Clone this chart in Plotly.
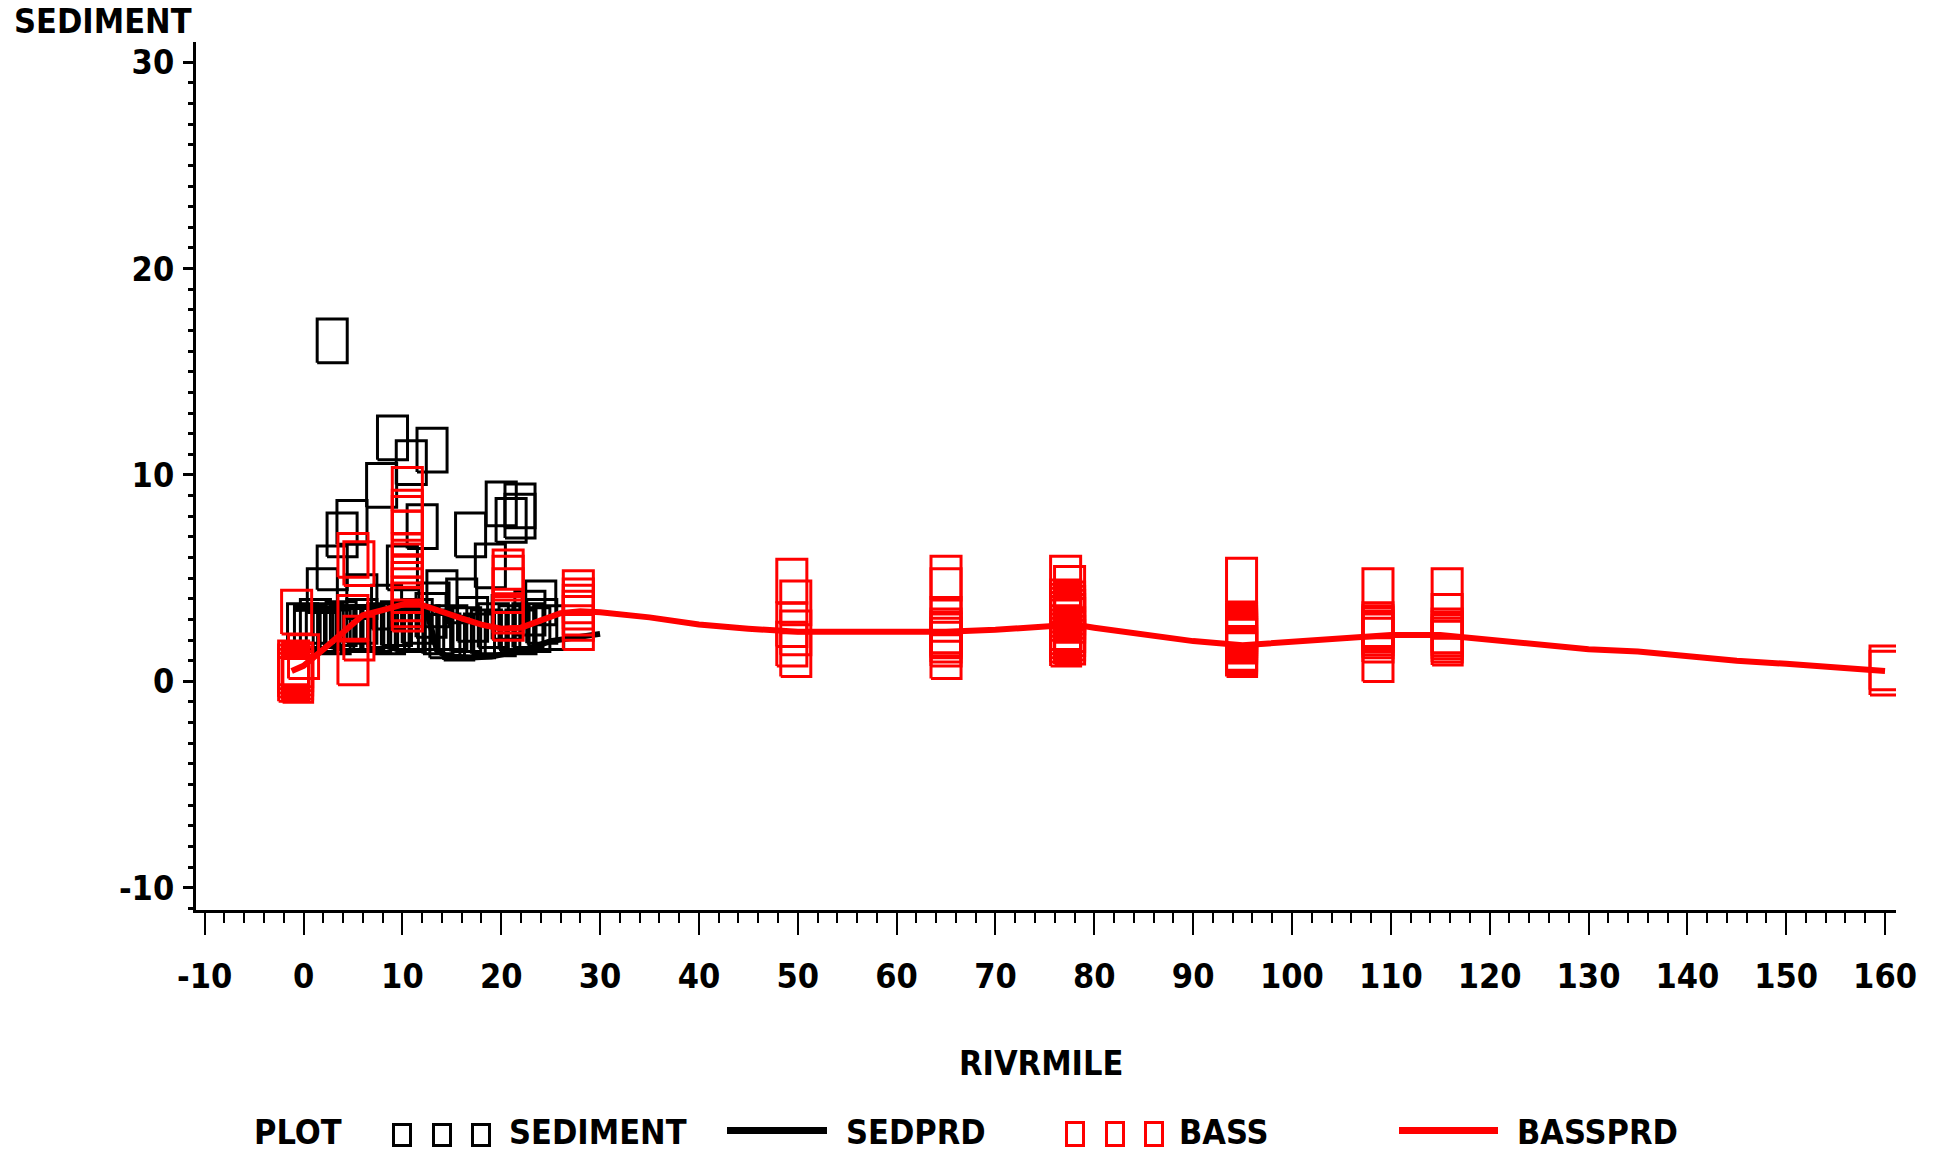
import plotly.graph_objects as go

# ---- SEDIMENT observations (river mile, value) ----
sed_rivmile = [2.9, 9.0, 13.0, 10.9, 7.9, 4.9, 3.9, 12.0, 2.9, 1.9, -0.1, 20.0, 21.9,
               21.0, 21.9, 16.9, 18.9, 14.0, 16.0, 10.0, 24.0, 22.9, 5.9, 8.4, 13.2,
               0.6, 1.2, 1.8, 2.5, 3.2, 3.8, 4.5, 5.2, 5.9, 6.6, 7.3, 8.0, 8.7, 9.4,
               10.1, 10.8, 11.5, 12.2, 12.9, 13.6, 14.3, 15.0, 15.7, 16.4, 17.1, 17.8,
               18.5, 19.2, 19.9, 20.6, 21.3, 22.0, 22.7, 23.4, 24.1, 24.8]
sed_value = [16.5, 11.8, 11.2, 10.6, 9.5, 7.7, 7.1, 7.5, 5.5, 4.4, 2.7, 8.6, 8.5,
             7.8, 8.0, 7.1, 5.6, 4.3, 3.9, 5.5, 3.8, 3.3, 4.1, 3.6, 3.7,
             2.6, 2.9, 2.5, 2.7, 2.4, 2.8, 2.6, 2.5, 2.9, 2.6, 2.5, 2.7, 2.4, 2.8,
             2.6, 2.5, 2.9, 2.6, 3.2, 2.4, 2.2, 2.6, 2.1, 2.5, 3.0, 2.2,
             2.4, 2.7, 2.3, 3.1, 2.6, 2.4, 2.7, 2.5, 2.9, 2.6]

# ---- SEDPRD fitted curve ----
sedprd_rivmile = [-1, 1, 3, 5, 7, 9, 11, 12.5, 13.5, 14.5, 17, 19, 20.5, 22.5, 25, 28, 30]
sedprd_value = [3.5, 3.5, 3.55, 3.6, 3.6, 3.5, 3.45, 3.35, 1.5, 1.2, 1.15, 1.2, 1.35,
                1.55, 1.95, 2.2, 2.3]

# ---- BASS observations (river mile, value) ----
bass_rivmile = [-1.0, -1.0, -1.0, -1.0, -1.0, -0.6, -0.6, -0.6, -0.6, -0.6, -0.7, 0.0,
                5.0, 5.0, 5.0, 5.6, 5.6,
                10.5, 10.5, 10.5, 10.5, 10.5, 10.5, 10.5, 10.5, 10.5, 10.5, 10.5, 10.5,
                20.7, 20.7, 20.7, 20.7, 20.7,
                27.8, 27.8, 27.8, 27.8, 27.8, 27.8,
                49.4, 49.8, 49.4, 49.8, 49.4, 49.8,
                65.0, 65.0, 65.0, 65.0, 65.0, 65.0, 65.0, 65.0, 65.0,
                77.1, 77.5, 77.1, 77.5, 77.1, 77.5, 77.1, 77.5, 77.1, 77.5, 77.1, 77.5,
                77.1, 77.5, 77.1, 77.5, 77.1, 77.5, 77.1, 77.5, 77.1,
                94.9, 94.9, 94.9, 94.9, 94.9, 94.9, 94.9, 94.9, 94.9, 94.9, 94.9,
                94.9, 94.9, 94.9,
                108.7, 108.7, 108.7, 108.7, 108.7, 108.7, 108.7, 108.7,
                115.7, 115.7, 115.7, 115.7, 115.7, 115.7, 115.7,
                160.0, 160.0]
bass_value = [0.9, 0.7, 0.5, 0.3, 0.1, 0.8, 0.6, 0.4, 0.2, 0.05, 3.35, 1.2,
              6.1, 3.1, 0.9, 5.7, 2.1,
              9.3, 8.2, 7.9, 7.2, 6.1, 5.6, 5.0, 4.7, 4.4, 4.0, 3.7, 3.5,
              5.3, 5.0, 4.4, 3.4, 3.05,
              4.3, 3.9, 3.6, 3.3, 3.05, 2.6,
              4.85, 3.8, 2.75, 2.35, 1.8, 1.3,
              5.0, 4.4, 3.0, 2.45, 2.3, 2.2, 2.0, 1.8, 1.2,
              5.0, 4.5, 3.85, 3.75, 3.65, 3.55, 3.45, 3.35, 3.25, 3.15, 3.05, 2.95,
              2.6, 2.5, 2.4, 2.3, 2.2, 2.1, 2.0, 1.9, 1.8,
              4.9, 2.75, 2.65, 2.55, 2.45, 2.35, 2.25, 2.15, 2.05, 1.95,
              1.6, 1.5, 1.4, 1.3,
              4.4, 2.75, 2.6, 2.5, 2.35, 2.2, 2.0, 1.05,
              4.4, 3.15, 2.45, 2.3, 2.15, 2.0, 1.85,
              0.65, 0.4]

# ---- BASSPRD fitted curve ----
bassprd_rivmile = [-1.2, 0, 2, 4, 6, 8, 10, 11, 12, 14, 16, 18, 20, 22, 24, 26, 28, 30,
                   35, 40, 45, 50, 60, 65, 70, 75, 78, 80, 85, 90, 95, 100, 105, 110,
                   115, 120, 125, 130, 135, 140, 145, 150, 155, 160]
bassprd_value = [0.5, 0.75, 1.55, 2.4, 3.2, 3.45, 3.7, 3.85, 3.7, 3.35, 3.05, 2.75, 2.55,
                 2.6, 2.95, 3.3, 3.4, 3.35, 3.1, 2.75, 2.55, 2.4, 2.4, 2.4, 2.5, 2.7,
                 2.75, 2.6, 2.3, 1.95, 1.75, 1.9, 2.1, 2.25, 2.25, 2.0, 1.8, 1.55, 1.45,
                 1.2, 1.0, 0.85, 0.65, 0.5]

# ---- axis ticks ----
x_tickvals = list(range(-10, 161, 10))
x_ticktext = ["-10", "0", "10", "20", "30", "40", "50", "60", "70", "80", "90", "100",
              "110", "120", "130", "140", "150", "160"]
y_tickvals = [-10, 0, 10, 20, 30]
y_ticktext = ["-10", "0", "10", "20", "30"]

# ---- geometry / style ----
W, H = 1933, 1153
ML, MR, MT, MB = 196, 37, 42, 243
PW, PH = W - ML - MR, H - MT - MB
X_RANGE = [-10.88, 161.11]
Y_RANGE = [-11.08, 30.98]
BOX_HX, BOX_HY = 1.52, 1.06          # half-size of the box symbol in data units
FONT = "DejaVu Sans Condensed, DejaVu Sans, sans-serif"
FS = 34
RED = "#ff0000"


def box_path(xs, ys):
    """Outline of a box symbol around every point, as one broken polyline."""
    px, py = [], []
    for x, y in zip(xs, ys):
        px += [x - BOX_HX, x + BOX_HX, x + BOX_HX, x - BOX_HX, x - BOX_HX, None]
        py += [y - BOX_HY, y - BOX_HY, y + BOX_HY, y + BOX_HY, y - BOX_HY, None]
    return px, py


def paper_x(px):
    return (px - ML) / PW


def paper_y(py):
    return 1 - (py - MT) / PH


fig = go.Figure()

sx, sy = box_path(sed_rivmile, sed_value)
fig.add_trace(go.Scatter(x=sx, y=sy, mode="lines", name="SEDIMENT",
                         line=dict(color="black", width=3), showlegend=False))
fig.add_trace(go.Scatter(x=sedprd_rivmile, y=sedprd_value, mode="lines", name="SEDPRD",
                         line=dict(color="black", width=6), showlegend=False))
bx, by = box_path(bass_rivmile, bass_value)
fig.add_trace(go.Scatter(x=bx, y=by, mode="lines", name="BASS",
                         line=dict(color=RED, width=3), showlegend=False))
fig.add_trace(go.Scatter(x=bassprd_rivmile, y=bassprd_value, mode="lines", name="BASSPRD",
                         line=dict(color=RED, width=6), showlegend=False))

textfont = dict(family=FONT, size=FS, color="black", weight="bold")

fig.update_xaxes(range=X_RANGE, showline=True, linecolor="black", linewidth=3,
                 showgrid=False, zeroline=False, tickmode="array",
                 tickvals=x_tickvals, ticktext=x_ticktext, ticks="outside",
                 ticklen=22, tickwidth=2, tickcolor="black", tickfont=textfont,
                 ticklabelstandoff=12,
                 minor=dict(tick0=0, dtick=2, ticks="outside", ticklen=10,
                            tickwidth=2, tickcolor="black", showgrid=False))
fig.update_yaxes(range=Y_RANGE, showline=True, linecolor="black", linewidth=3,
                 showgrid=False, zeroline=False, tickmode="array",
                 tickvals=y_tickvals, ticktext=y_ticktext, ticks="outside",
                 ticklen=10, tickwidth=3, tickcolor="black", tickfont=textfont,
                 ticklabelstandoff=2,
                 minor=dict(tick0=0, dtick=1, ticks="outside", ticklen=5,
                            tickwidth=3, tickcolor="black", showgrid=False))

LEG_Y = 1153
annotations = [
    dict(text="SEDIMENT", x=paper_x(13), y=paper_y(0), xanchor="left", yanchor="top"),
    dict(text="RIVRMILE", x=paper_x(1041), y=paper_y(1063), xanchor="center", yanchor="middle"),
    dict(text="PLOT", x=paper_x(253), y=paper_y(LEG_Y), xanchor="left", yanchor="bottom"),
    dict(text="SEDIMENT", x=paper_x(508), y=paper_y(LEG_Y), xanchor="left", yanchor="bottom"),
    dict(text="SEDPRD", x=paper_x(845), y=paper_y(LEG_Y), xanchor="left", yanchor="bottom"),
    dict(text="BASS", x=paper_x(1178), y=paper_y(LEG_Y), xanchor="left", yanchor="bottom"),
    dict(text="BASSPRD", x=paper_x(1516), y=paper_y(LEG_Y), xanchor="left", yanchor="bottom"),
]
for a in annotations:
    a.update(xref="paper", yref="paper", showarrow=False, borderpad=0, font=textfont)

# legend keys
shapes = []
for x0 in (392, 432, 471):
    shapes.append(dict(type="rect", x0=paper_x(x0 + 1.5), x1=paper_x(x0 + 18.5),
                       y0=paper_y(1124.5), y1=paper_y(1145.5),
                       line=dict(color="black", width=3)))
for x0 in (1065, 1105, 1144):
    shapes.append(dict(type="rect", x0=paper_x(x0 + 1.5), x1=paper_x(x0 + 18.5),
                       y0=paper_y(1122.5), y1=paper_y(1145.5),
                       line=dict(color=RED, width=3)))
shapes.append(dict(type="line", x0=paper_x(727), x1=paper_x(827),
                   y0=paper_y(1130.5), y1=paper_y(1130.5),
                   line=dict(color="black", width=7)))
shapes.append(dict(type="line", x0=paper_x(1399), x1=paper_x(1498),
                   y0=paper_y(1130.5), y1=paper_y(1130.5),
                   line=dict(color=RED, width=7)))
for s in shapes:
    s.update(xref="paper", yref="paper")

fig.update_layout(width=W, height=H, margin=dict(l=ML, r=MR, t=MT, b=MB, pad=0),
                  plot_bgcolor="white", paper_bgcolor="white",
                  annotations=annotations, shapes=shapes, showlegend=False)

fig.write_html("out.html")
